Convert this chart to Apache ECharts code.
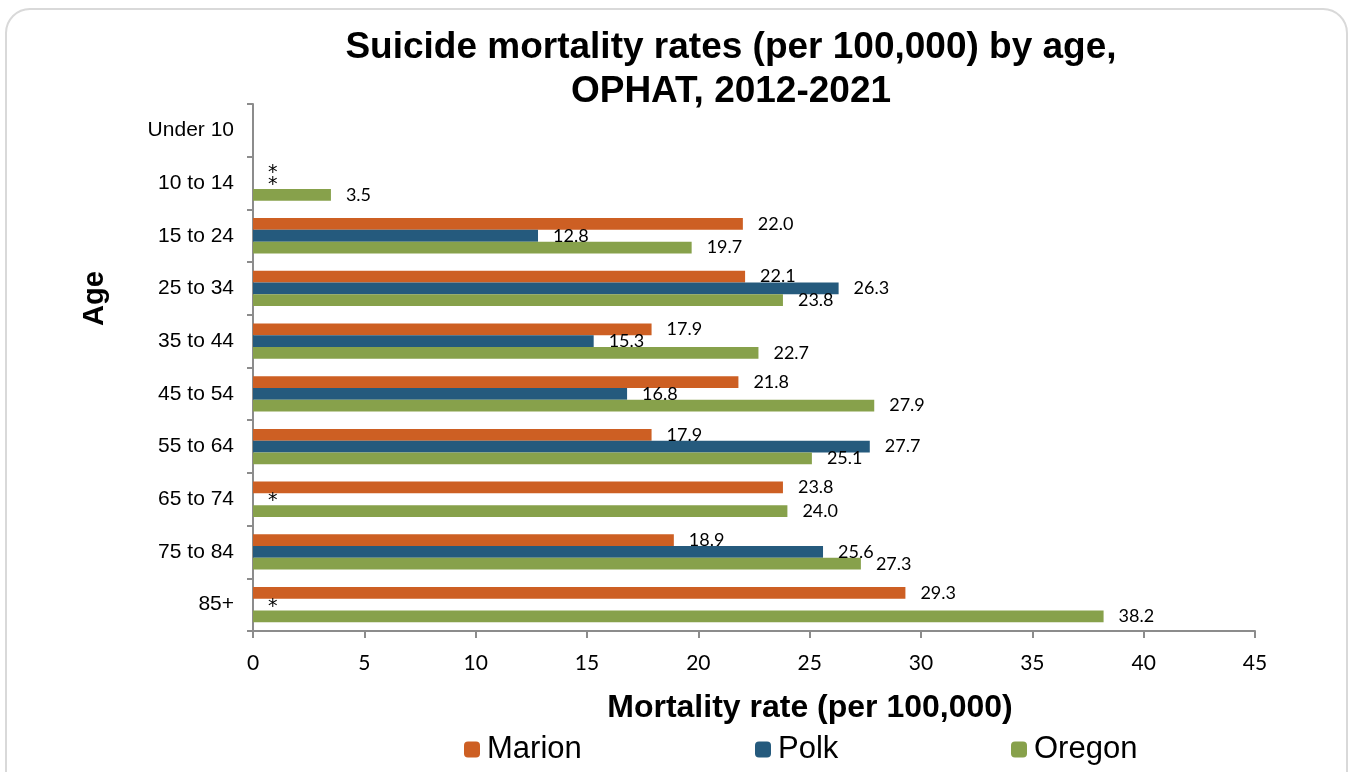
<!DOCTYPE html>
<html>
<head>
<meta charset="utf-8">
<script src="https://cdn.jsdelivr.net/npm/echarts@6/dist/echarts.min.js"></script>
<style>
  html, body { margin: 0; padding: 0; background: #fff; }
  #main { width: 1351px; height: 772px; }
</style>
</head>
<body>
<div id="main"></div>
<script>
var ages = ['Under 10', '10 to 14', '15 to 24', '25 to 34', '35 to 44', '45 to 54', '55 to 64', '65 to 74', '75 to 84', '85+'];
// '*' = suppressed (small numbers), null = nothing shown
var marion = [null, '*', 22.0, 22.1, 17.9, 21.8, 17.9, 23.8, 18.9, 29.3];
var polk   = [null, '*', 12.8, 26.3, 15.3, 16.8, 27.7, '*', 25.6, '*'];
var oregon = [null, 3.5, 19.7, 23.8, 22.7, 27.9, 25.1, 24.0, 27.3, 38.2];
var xTicks = [0, 45, 5];

var chart = echarts.init(document.getElementById('main'));

function toData(arr) {
    var out = [];
    for (var i = 0; i < arr.length; i++) {
        if (arr[i] === '*') {
            out.push({ value: 0, label: { formatter: '*', fontFamily: 'DejaVu Sans', fontSize: 19, offset: [0, 2] } });
        } else {
            out.push(arr[i] == null ? '-' : arr[i]);
        }
    }
    return out;
}

function barSeries(name, arr, color) {
    return {
        name: name,
        type: 'bar',
        barGap: '0%',
        barCategoryGap: '33%',
        itemStyle: { color: color },
        label: {
            show: true,
            position: 'right',
            distance: 15,
            color: '#000',
            fontFamily: 'Lato',
            fontSize: 18,
            formatter: function (p) { return p.value.toFixed(1); }
        },
        data: toData(arr)
    };
}

function legendAt(name, left) {
    return {
        data: [name],
        left: left,
        top: 734,
        padding: 0,
        itemWidth: 16,
        itemHeight: 16,
        itemGap: 0,
        textStyle: { fontFamily: 'Liberation Sans', fontSize: 31, color: '#000', padding: [0, 0, 0, 2] }
    };
}

chart.setOption({
    animation: false,
    title: {
        text: 'Suicide mortality rates (per 100,000) by age,\nOPHAT, 2012-2021',
        left: 726,
        textAlign: 'center',
        top: 21,
        textStyle: { fontFamily: 'Liberation Sans', fontWeight: 'bold', fontSize: 37, lineHeight: 44, color: '#000' }
    },
    graphic: [{
        type: 'rect',
        shape: { x: 6, y: 9, width: 1341, height: 800, r: 24 },
        style: { fill: 'none', stroke: '#d9d9d9', lineWidth: 2 },
        silent: true,
        z: -1
    }],
    legend: [legendAt('Marion', 464), legendAt('Polk', 755), legendAt('Oregon', 1011)],
    grid: { left: 253, right: 96, top: 104, bottom: 141 },
    xAxis: {
        type: 'value',
        min: xTicks[0],
        max: xTicks[1],
        interval: xTicks[2],
        name: 'Mortality rate (per 100,000)',
        nameLocation: 'middle',
        nameGap: 61,
        nameTextStyle: { fontFamily: 'Liberation Sans', fontWeight: 'bold', fontSize: 32, color: '#000', padding: [0, 0, 0, 112] },
        axisLine: { show: true, lineStyle: { color: '#8c8c8c', width: 2 } },
        axisTick: { show: true, length: 7, lineStyle: { color: '#8c8c8c', width: 2 } },
        axisLabel: { fontFamily: 'Lato', fontSize: 21, color: '#000', margin: 22 },
        splitLine: { show: false }
    },
    yAxis: {
        type: 'category',
        inverse: true,
        data: ages,
        name: 'Age',
        nameLocation: 'middle',
        nameGap: 144,
        nameRotate: 90,
        nameTextStyle: { fontFamily: 'Liberation Sans', fontWeight: 'bold', fontSize: 29, color: '#000', padding: [0, 0, 0, 138] },
        axisLine: { lineStyle: { color: '#8c8c8c', width: 2 } },
        axisTick: { show: true, length: 6, lineStyle: { color: '#8c8c8c', width: 2 } },
        axisLabel: { fontFamily: 'Liberation Sans', fontSize: 21, color: '#000', margin: 19 }
    },
    series: [
        barSeries('Marion', marion, '#cd5f23'),
        barSeries('Polk', polk, '#255a7d'),
        barSeries('Oregon', oregon, '#87a14b')
    ]
});
</script>
</body>
</html>
